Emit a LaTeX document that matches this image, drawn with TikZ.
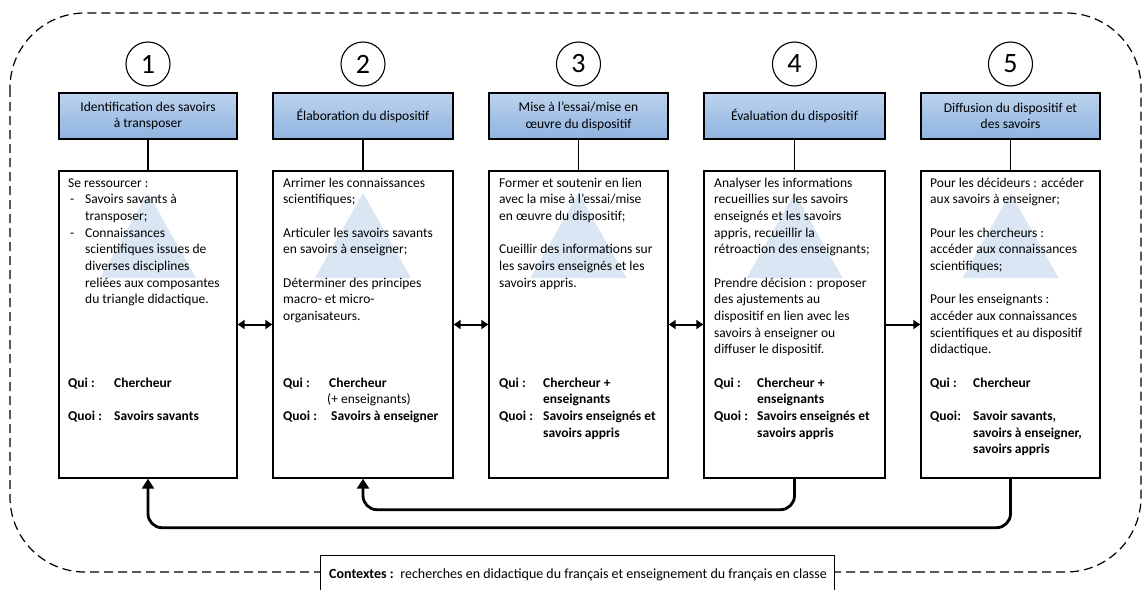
\documentclass[tikz,border=0pt]{standalone}
\usepackage{fontspec}
\setmainfont{Carlito}
\usetikzlibrary{arrows.meta}
\definecolor{hdtop}{HTML}{BDD3EE}
\definecolor{hdbot}{HTML}{8FB3DF}
\definecolor{trifill}{HTML}{DAE6F3}
\newcommand{\fs}{\fontsize{13.5}{16.67}\selectfont}
\newcommand{\lbl}[2]{\makebox[#1][l]{\textbf{#2}}}
\begin{document}
\begin{tikzpicture}[x=1pt,y=-1pt,
 hdr/.style={draw, line width=1.6pt, top color=hdtop, bottom color=hdbot, align=center, font=\fs, minimum height=46pt, inner sep=0pt},
 cbox/.style={draw, line width=1.4pt, fill=white, minimum height=307pt, inner sep=0pt},
 num/.style={draw, circle, line width=1.1pt, minimum size=44pt, inner sep=0pt, font=\fontsize{28}{30}\selectfont},
 conn/.style={line width=1.8pt},
 darr/.style={line width=2pt, {Triangle[length=7pt,width=9pt]}-{Triangle[length=7pt,width=9pt]}},
 sarr/.style={line width=2pt, -{Triangle[length=7pt,width=9pt]}},
 fb/.style={line width=2.8pt, rounded corners=14pt, -{Triangle[length=10pt,width=12pt]}},
 txt/.style={anchor=base west, inner sep=0pt, font=\fs},
]
\useasboundingbox (0,0) rectangle (1143,589);
% outer dashed frame
\draw[line width=1.2pt, dash pattern=on 9pt off 5pt, rounded corners=75pt] (10,13) rectangle (1141,572);
% contexts
\node[draw, line width=1.2pt, fill=white, anchor=north west, minimum width=514pt, minimum height=45pt, inner sep=0pt] (ctx) at (320,555) {};
\node[txt, font=\fontsize{14}{16}\selectfont] (ctxt) at (329,578) {\textbf{Contextes :}\, recherches en didactique du français et enseignement du français en classe};

% numbers
\node[num] (n1) at (148,64) {1};
\node[num] (n2) at (363,64) {2};
\node[num] (n3) at (578.5,64) {3};
\node[num] (n4) at (794.5,64) {4};
\node[num] (n5) at (1010.5,64) {5};

% headers
\node[hdr, minimum width=178pt] (h1) at (148,116) {Identification des savoirs\\à transposer};
\node[hdr, minimum width=180pt] (h2) at (363,116) {Élaboration du dispositif};
\node[hdr, minimum width=179pt] (h3) at (578.5,116) {Mise à l’essai/mise en\\œuvre du dispositif};
\node[hdr, minimum width=181pt] (h4) at (794.5,116) {Évaluation du dispositif};
\node[hdr, minimum width=179pt] (h5) at (1010.5,116) {Diffusion du dispositif et\\des savoirs};

% content boxes
\node[cbox, minimum width=178pt] (c1) at (148,324.5) {};
\node[cbox, minimum width=180pt] (c2) at (363,324.5) {};
\node[cbox, minimum width=179pt] (c3) at (578.5,324.5) {};
\node[cbox, minimum width=181pt] (c4) at (794.5,324.5) {};
\node[cbox, minimum width=179pt] (c5) at (1010.5,324.5) {};

% triangles
\foreach \cx in {148,363,578.5,794.5,1010.5}
  \fill[trifill] (\cx,193) -- (\cx+48,278) -- (\cx-48,278) -- cycle;

% connectors header -> box
\foreach \i in {1,...,5} \draw[conn] (h\i.south) -- (c\i.north);

% horizontal arrows
\draw[darr] (c1.east) -- (c2.west);
\draw[darr] (c2.east) -- (c3.west);
\draw[darr] (c3.east) -- (c4.west);
\draw[sarr] (c4.east) -- (c5.west);

% feedback arrows
\draw[fb] (c5.south) -- ++(0,49) -| (c1.south);
\draw[fb] (c4.south) -- ++(0,31) -| (c2.south);

% texts
\node[txt] (t1) at (68,187) {\begin{minipage}[t]{200pt}\fs\raggedright
Se ressourcer :\\
\hspace*{2pt}\makebox[15pt][l]{-}Savoirs savants à\\
\hspace*{17pt}transposer;\\
\hspace*{2pt}\makebox[15pt][l]{-}Connaissances\\
\hspace*{17pt}scientifiques issues de\\
\hspace*{17pt}diverses disciplines\\
\hspace*{17pt}reliées aux composantes\\
\hspace*{17pt}du triangle didactique.\\
~\\ ~\\ ~\\ ~\\
\lbl{46pt}{Qui :}\textbf{Chercheur}\\
~\\
\lbl{46pt}{Quoi :}\textbf{Savoirs savants}
\end{minipage}};

\node[txt] (t2) at (283,187) {\begin{minipage}[t]{200pt}\fs\raggedright
Arrimer les connaissances\\
scientifiques;\\
~\\
Articuler les savoirs savants\\
en savoirs à enseigner;\\
~\\
Déterminer des principes\\
macro- et micro-\\
organisateurs.\\
~\\ ~\\ ~\\
\lbl{46pt}{Qui :}\textbf{Chercheur}\\
\hspace*{44pt}(+ enseignants)\\
\lbl{48pt}{Quoi :}\textbf{Savoirs à enseigner}
\end{minipage}};

\node[txt] (t3) at (499,187) {\begin{minipage}[t]{200pt}\fs\raggedright
Former et soutenir en lien\\
avec la mise à l’essai/mise\\
en œuvre du dispositif;\\
~\\
Cueillir des informations sur\\
les savoirs enseignés et les\\
savoirs appris.\\
~\\ ~\\ ~\\ ~\\ ~\\
\lbl{44pt}{Qui :}\textbf{Chercheur +}\\
\hspace*{44pt}\textbf{enseignants}\\
\lbl{44pt}{Quoi :}\textbf{Savoirs enseignés et}\\
\hspace*{44pt}\textbf{savoirs appris}
\end{minipage}};

\node[txt] (t4) at (714,187) {\begin{minipage}[t]{200pt}\fs\raggedright
Analyser les informations\\
recueillies sur les savoirs\\
enseignés et les savoirs\\
appris, recueillir la\\
rétroaction des enseignants;\\
~\\
Prendre décision : proposer\\
des ajustements au\\
dispositif en lien avec les\\
savoirs à enseigner ou\\
diffuser le dispositif.\\
~\\
\lbl{43pt}{Qui :}\textbf{Chercheur +}\\
\hspace*{43pt}\textbf{enseignants}\\
\lbl{43pt}{Quoi :}\textbf{Savoirs enseignés et}\\
\hspace*{43pt}\textbf{savoirs appris}
\end{minipage}};

\node[txt] (t5) at (930,187) {\begin{minipage}[t]{200pt}\fs\raggedright
Pour les décideurs : accéder\\
aux savoirs à enseigner;\\
~\\
Pour les chercheurs :\\
accéder aux connaissances\\
scientifiques;\\
~\\
Pour les enseignants :\\
accéder aux connaissances\\
scientifiques et au dispositif\\
didactique.\\
~\\
\lbl{43pt}{Qui :}\textbf{Chercheur}\\
~\\
\lbl{43pt}{Quoi:}\textbf{Savoir savants,}\\
\hspace*{43pt}\textbf{savoirs à enseigner,}\\
\hspace*{43pt}\textbf{savoirs appris}
\end{minipage}};
\end{tikzpicture}
\end{document}
